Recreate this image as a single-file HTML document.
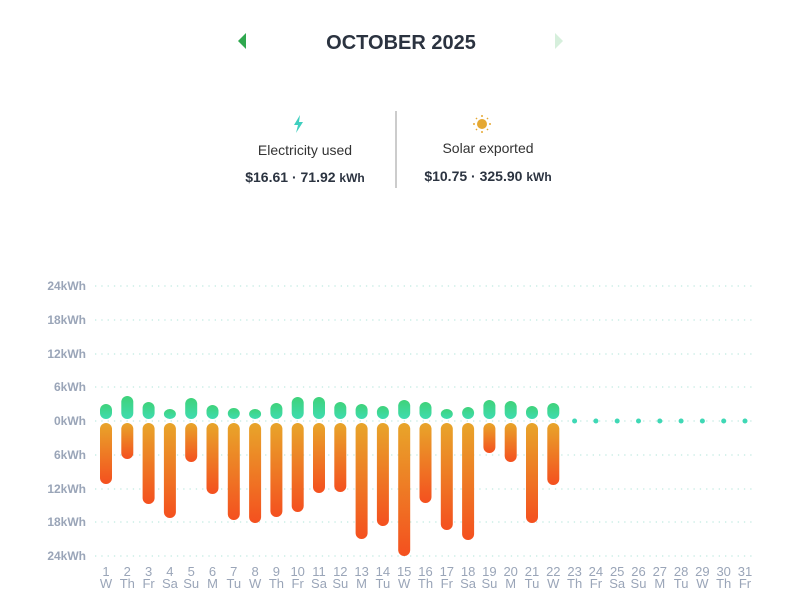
<!DOCTYPE html>
<html><head><style>
body{margin:0;background:#fff;width:800px;height:600px;overflow:hidden;font-family:"Liberation Sans",sans-serif;}
</style></head><body>
<svg width="800" height="600" xmlns="http://www.w3.org/2000/svg" font-family="Liberation Sans, sans-serif">
<defs>
<linearGradient id="g" x1="0" y1="0" x2="0" y2="1"><stop offset="0" stop-color="#3fd27a"/><stop offset="1" stop-color="#3fdcb0"/></linearGradient>
<linearGradient id="o" x1="0" y1="0" x2="0" y2="1"><stop offset="0" stop-color="#e8a52a"/><stop offset="1" stop-color="#f4501f"/></linearGradient>
</defs>
<polygon points="238,41 246,33 246,49" fill="#2fa84f"/>
<polygon points="563,41 555,33 555,49" fill="#d6efdc"/>
<text x="401" y="49" text-anchor="middle" font-size="20" font-weight="bold" fill="#2b3340">OCTOBER 2025</text>
<polygon points="300,115 294,125 298,125 296,133 303,122 299,122" fill="#3fcfbf"/>
<circle cx="482" cy="124" r="5" fill="#e5a832"/>
<g stroke="#e5a832" stroke-width="1.5"><line x1="482" y1="115" x2="482" y2="117"/><line x1="482" y1="131" x2="482" y2="133"/><line x1="473" y1="124" x2="475" y2="124"/><line x1="489" y1="124" x2="491" y2="124"/><line x1="476" y1="118" x2="477" y2="119"/><line x1="487" y1="129" x2="488" y2="130"/><line x1="488" y1="118" x2="487" y2="119"/><line x1="476" y1="130" x2="477" y2="129"/></g>
<text x="305" y="155" text-anchor="middle" font-size="14" fill="#333">Electricity used</text>
<text x="488" y="153" text-anchor="middle" font-size="14" fill="#333">Solar exported</text>
<text x="305" y="182" text-anchor="middle" font-size="14" font-weight="bold" fill="#2b3340">$16.61 · 71.92 <tspan font-size="12">kWh</tspan></text>
<text x="488" y="181" text-anchor="middle" font-size="14" font-weight="bold" fill="#2b3340">$10.75 · 325.90 <tspan font-size="12">kWh</tspan></text>
<line x1="396" y1="111" x2="396" y2="188" stroke="#999" stroke-width="1"/>
<g stroke="#bfe9e0" stroke-width="1.3" stroke-dasharray="1.3 5">
<line x1="95" y1="286" x2="756" y2="286"/><line x1="95" y1="320" x2="756" y2="320"/><line x1="95" y1="354" x2="756" y2="354"/><line x1="95" y1="387" x2="756" y2="387"/><line x1="95" y1="421" x2="756" y2="421"/><line x1="95" y1="455" x2="756" y2="455"/><line x1="95" y1="489" x2="756" y2="489"/><line x1="95" y1="522" x2="756" y2="522"/><line x1="95" y1="556" x2="756" y2="556"/>
</g>
<g font-size="12" font-weight="bold" fill="#9aa5b8" text-anchor="end">
<text x="86" y="290">24kWh</text><text x="86" y="324">18kWh</text><text x="86" y="358">12kWh</text><text x="86" y="391">6kWh</text><text x="86" y="425">0kWh</text><text x="86" y="459">6kWh</text><text x="86" y="493">12kWh</text><text x="86" y="526">18kWh</text><text x="86" y="560">24kWh</text>
</g>
<g id="bars"></g>
<g id="labels" font-size="13" fill="#9aa5b8" text-anchor="middle"></g>
</svg>
<script>
var tops=[404,396,402,409,398,405,408,409,403,397,397,402,404,406,400,402,409,407,400,401,406,403];
var bots=[484,459,504,518,462,494,520,523,517,512,493,492,539,526,556,503,530,540,453,462,523,485];
var days=["W","Th","Fr","Sa","Su","M","Tu"];
var ns="http://www.w3.org/2000/svg",b=document.getElementById("bars"),l=document.getElementById("labels");
function el(t,a,p){var e=document.createElementNS(ns,t);for(var k in a)e.setAttribute(k,a[k]);p.appendChild(e);return e;}
for(var i=0;i<31;i++){var x=106+i*21.3;
 if(i<22){el("rect",{x:x-6,y:tops[i],width:12,height:419-tops[i],rx:6,fill:"url(#g)"},b);
  el("rect",{x:x-6,y:423,width:12,height:bots[i]-423,rx:6,fill:"url(#o)"},b);}
 else el("circle",{cx:x,cy:421,r:2.5,fill:"#3fd8b5"},b);
 var t=el("text",{x:x,y:576},l);t.textContent=i+1;
 var d=el("text",{x:x,y:588},l);d.textContent=days[i%7];}
</script>
</body></html>
